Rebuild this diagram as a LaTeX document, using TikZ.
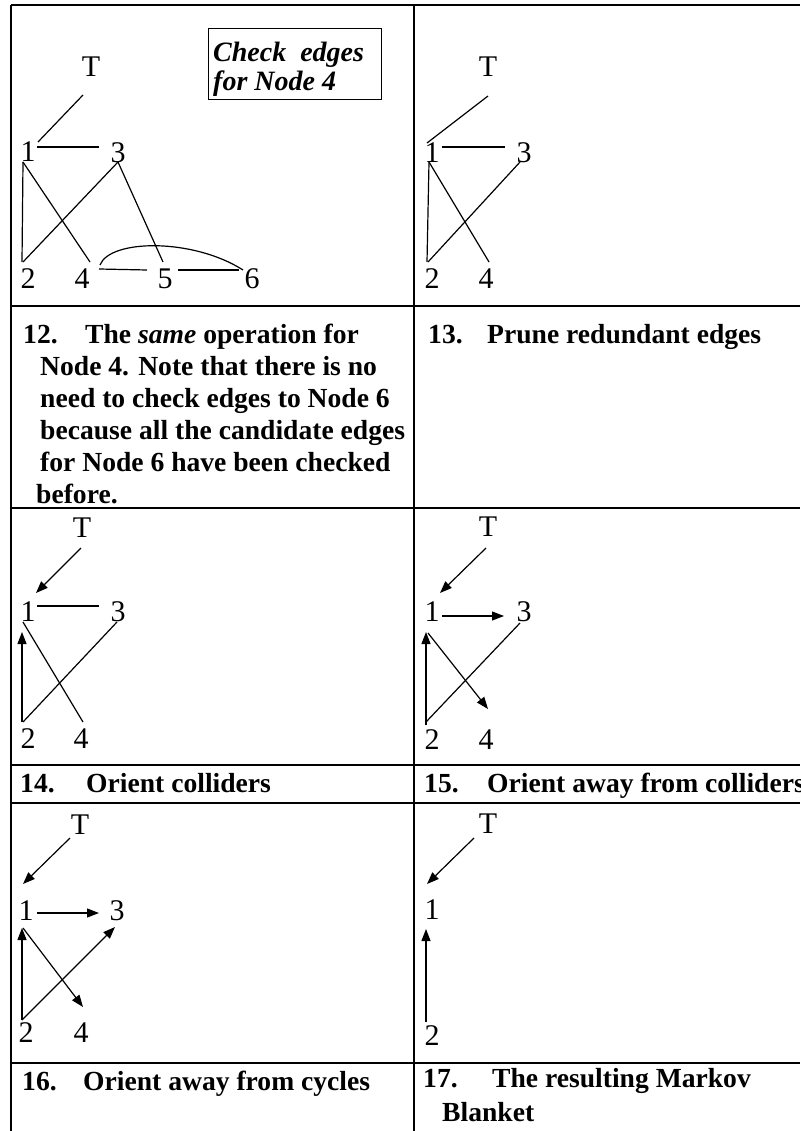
\documentclass[tikz,border=0pt]{standalone}
\usepackage{fontspec}
\setmainfont{Liberation Serif}
\usetikzlibrary{arrows.meta}
\begin{document}
\begin{tikzpicture}[x=1pt,y=-1pt,
  lbl/.style={inner sep=0pt,font=\fontsize{30}{30}\selectfont},
  captxt/.style={inner sep=0pt,anchor=base west,font=\fontsize{27.6}{32}\selectfont\bfseries},
  boxtxt/.style={inner sep=0pt,anchor=base west,font=\fontsize{28}{29}\selectfont\bfseries\itshape},
  plainedge/.style={line width=1.2pt},
  arr/.style={line width=1.2pt,-{Triangle[length=12pt,width=9pt]}},
  tablerule/.style={line width=1.4pt}]
\useasboundingbox (0,0) rectangle (800,1131);
\clip (0,0) rectangle (800,1131);
% table rules
\draw[tablerule] (11,5) -- (800,5);
\draw[tablerule] (11,5) -- (11,1131);
\draw[tablerule] (414,5) -- (414,1131);
\foreach \yy in {306,508,765,803,1063} \draw[tablerule] (11,\yy) -- (800,\yy);

% ---------- Panel A ----------
\node[lbl] (aT) at (91,67) {T};
\node[lbl] (a1) at (28,152) {1};
\node[lbl] (a3) at (118,153) {3};
\node[lbl] (a2) at (28,279) {2};
\node[lbl] (a4) at (82,279) {4};
\node[lbl] (a5) at (165,279) {5};
\node[lbl] (a6) at (252,279) {6};
\draw[plainedge] ([shift={(-8,28)}]aT.center) -- ([shift={(10,-10)}]a1.center);
\draw[plainedge] ([shift={(9,-5)}]a1.center) -- ([shift={(-19,-6)}]a3.center);
\draw[plainedge] ([shift={(-5,10)}]a1.center) -- ([shift={(-6,-17)}]a2.center);
\draw[plainedge] ([shift={(-5,10)}]a1.center) -- ([shift={(8,-17)}]a4.center);
\draw[plainedge] ([shift={(-5,-17)}]a2.center) -- ([shift={(0,9)}]a3.center);
\draw[plainedge] ([shift={(0,9)}]a3.center) -- ([shift={(-2,-17)}]a5.center);
\draw[plainedge] ([shift={(17,-10)}]a4.center) -- ([shift={(-18,-9)}]a5.center);
\draw[plainedge] ([shift={(13,-9)}]a5.center) -- ([shift={(-13,-9)}]a6.center);
\draw[plainedge] ([shift={(18,-14)}]a4.center) .. controls +(10,-26) and +(-50,-32) .. ([shift={(-9,-9)}]a6.center);
\node[draw,line width=1pt,inner sep=0pt,minimum width=173pt,minimum height=71pt,anchor=north west] (chk) at (208,28) {};
\node[boxtxt] (chk1) at (213,62) {Check\ \ edges};
\node[boxtxt] (chk2) at (213,91) {for Node 4};

% ---------- Panel B ----------
\node[lbl] (bT) at (488,67) {T};
\node[lbl] (b1) at (432,153) {1};
\node[lbl] (b3) at (524,153) {3};
\node[lbl] (b2) at (432,279) {2};
\node[lbl] (b4) at (486,279) {4};
\draw[plainedge] ([shift={(0,29)}]bT.center) -- ([shift={(-5,-10)}]b1.center);
\draw[plainedge] ([shift={(10,-6)}]b1.center) -- ([shift={(-19,-6)}]b3.center);
\draw[plainedge] ([shift={(-3,9)}]b1.center) -- ([shift={(-5,-17)}]b2.center);
\draw[plainedge] ([shift={(-3,9)}]b1.center) -- ([shift={(3,-17)}]b4.center);
\draw[plainedge] ([shift={(-4,-17)}]b2.center) -- ([shift={(-4,9)}]b3.center);

% ---------- Captions 12 / 13 ----------
\node[captxt] (c12n) at (23,343) {12.};
\node[captxt] (c12a) at (85,343) {The \textit{same} operation for};
\node[captxt] (c12b) at (40,375) {Node 4. Note that there is no};
\node[captxt] (c12c) at (40,407) {need to check edges to Node 6};
\node[captxt] (c12d) at (40,439) {because all the candidate edges};
\node[captxt] (c12e) at (40,471) {for Node 6 have been checked};
\node[captxt] (c12f) at (36,503) {before.};
\node[captxt] (c13n) at (428,343) {13.};
\node[captxt] (c13a) at (487,343) {Prune redundant edges};

% ---------- Panel C ----------
\node[lbl] (cT) at (82,528) {T};
\node[lbl] (c1) at (28,612) {1};
\node[lbl] (c3) at (118,612) {3};
\node[lbl] (c2) at (28,739) {2};
\node[lbl] (c4) at (81,739) {4};
\draw[arr] ([shift={(-1,20)}]cT.center) -- ([shift={(8,-19)}]c1.center);
\draw[plainedge] ([shift={(9,-6)}]c1.center) -- ([shift={(-19,-6)}]c3.center);
\draw[arr] ([shift={(-6,-17)}]c2.center) -- ([shift={(-6,20)}]c1.center);
\draw[plainedge] ([shift={(-5,10)}]c1.center) -- ([shift={(2,-17)}]c4.center);
\draw[plainedge] ([shift={(-5,-17)}]c2.center) -- ([shift={(-1,10)}]c3.center);

% ---------- Panel D ----------
\node[lbl] (dT) at (488,527) {T};
\node[lbl] (d1) at (432,612) {1};
\node[lbl] (d3) at (524,612) {3};
\node[lbl] (d2) at (432,740) {2};
\node[lbl] (d4) at (486,740) {4};
\draw[arr] ([shift={(-2,21)}]dT.center) -- ([shift={(8,-19)}]d1.center);
\draw[arr] ([shift={(10,4)}]d1.center) -- ([shift={(-20,4)}]d3.center);
\draw[arr] ([shift={(-6,-15)}]d2.center) -- ([shift={(-6,20)}]d1.center);
\draw[arr] ([shift={(-4,21)}]d1.center) -- ([shift={(2,-31)}]d4.center);
\draw[plainedge] ([shift={(-6,-18)}]d2.center) -- ([shift={(-4,11)}]d3.center);

% ---------- Captions 14 / 15 ----------
\node[captxt] (c14n) at (20,792) {14.};
\node[captxt] (c14a) at (86,792) {Orient colliders};
\node[captxt] (c15n) at (424,792) {15.};
\node[captxt] (c15a) at (487,792) {Orient away from colliders};

% ---------- Panel E ----------
\node[lbl] (eT) at (80,825) {T};
\node[lbl] (e1) at (26,911) {1};
\node[lbl] (e3) at (117,911) {3};
\node[lbl] (e2) at (26,1033) {2};
\node[lbl] (e4) at (81,1033) {4};
\draw[arr] ([shift={(-10,13)}]eT.center) -- ([shift={(-3,-27)}]e1.center);
\draw[arr] ([shift={(11,2)}]e1.center) -- ([shift={(-18,2)}]e3.center);
\draw[arr] ([shift={(-4,-13)}]e2.center) -- ([shift={(-4,17)}]e1.center);
\draw[arr] ([shift={(-3,17)}]e1.center) -- ([shift={(2,-26)}]e4.center);
\draw[arr] ([shift={(-4,-13)}]e2.center) -- ([shift={(-2,16)}]e3.center);

% ---------- Panel F ----------
\node[lbl] (fT) at (488,824) {T};
\node[lbl] (f1) at (432,910) {1};
\node[lbl] (f2) at (432,1036) {2};
\draw[arr] ([shift={(-14,14)}]fT.center) -- ([shift={(-5,-26)}]f1.center);
\draw[arr] ([shift={(-6,-14)}]f2.center) -- ([shift={(-6,19)}]f1.center);

% ---------- Captions 16 / 17 ----------
\node[captxt] (c16n) at (22,1090) {16.};
\node[captxt] (c16a) at (83,1090) {Orient away from cycles};
\node[captxt] (c17n) at (423,1087) {17.};
\node[captxt] (c17a) at (492,1087) {The resulting Markov};
\node[captxt] (c17b) at (442,1121) {Blanket};
\end{tikzpicture}
\end{document}
